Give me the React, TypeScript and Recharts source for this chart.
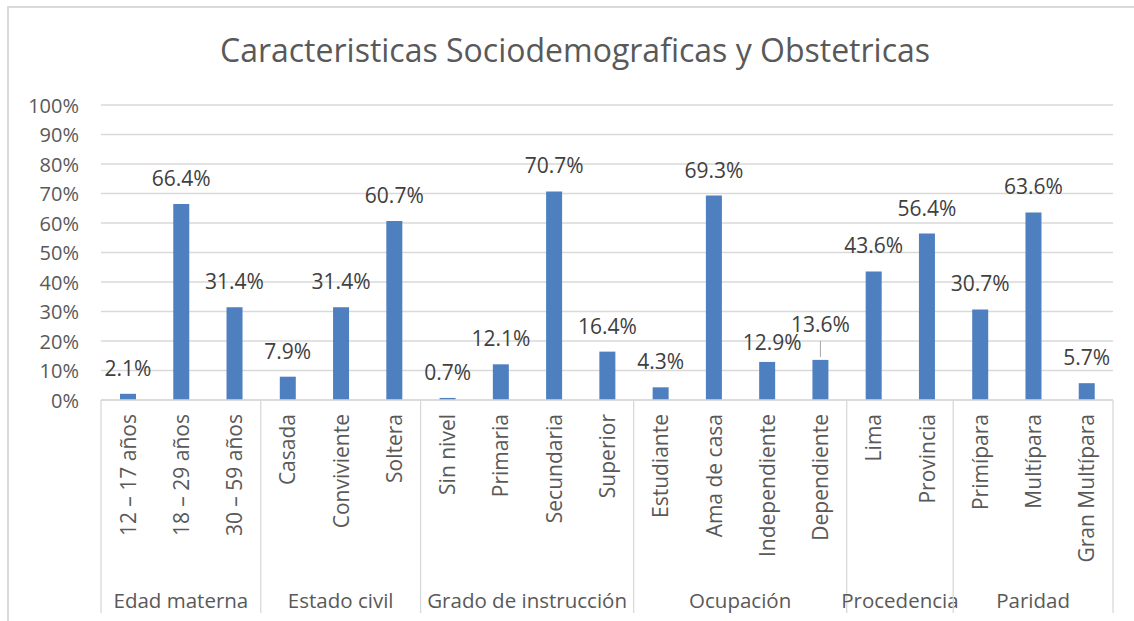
import React from "react";
import { BarChart, Bar, XAxis, YAxis, CartesianGrid, LabelList } from "recharts";

const categories = [
  "12 – 17 años", "18 – 29 años", "30 – 59 años",
  "Casada", "Conviviente", "Soltera",
  "Sin nivel", "Primaria", "Secundaria", "Superior",
  "Estudiante", "Ama de casa", "Independiente", "Dependiente",
  "Lima", "Provincia",
  "Primípara", "Multípara", "Gran Multípara",
];
const values = [
  2.1, 66.4, 31.4,
  7.9, 31.4, 60.7,
  0.7, 12.1, 70.7, 16.4,
  4.3, 69.3, 12.9, 13.6,
  43.6, 56.4,
  30.7, 63.6, 5.7,
];
const groupNames = ["Edad materna", "Estado civil", "Grado de instrucción", "Ocupación", "Procedencia", "Paridad"];
const groupSizes = [3, 3, 4, 4, 2, 3];
const yTicks = [0, 10, 20, 30, 40, 50, 60, 70, 80, 90, 100];
const title = "Caracteristicas Sociodemograficas y Obstetricas";

const data = categories.map((name, i) => ({ name, value: values[i] }));

// layout constants
const W = 1134;
const H = 621;
const PLOT_LEFT = 101;
const PLOT_RIGHT = 1113;
const PLOT_TOP = 105;
const PLOT_BOTTOM = 400;
const BAND = (PLOT_RIGHT - PLOT_LEFT) / categories.length;
const FONT = "'Open Sans', 'Noto Sans', sans-serif";
const TEXT = "#595959";
const LINE = "#d9d9d9";

const groupStart: Record<number, number> = {};
{
  let s = 0;
  groupSizes.forEach((n, g) => {
    groupStart[s] = g;
    s += n;
  });
}

const XTick = (props: any) => {
  const { x, payload, index } = props;
  const g = groupStart[index];
  const els: React.ReactNode[] = [];
  els.push(
    <text
      key="t"
      x={x}
      y={414}
      transform={`rotate(-90 ${x} 414)`}
      textAnchor="end"
      dominantBaseline="central"
      fontSize={21}
      fill={TEXT}
      fontFamily={FONT}
    >
      {payload.value}
    </text>
  );
  if (g !== undefined) {
    const n = groupSizes[g];
    const left = x - BAND / 2;
    const cx = left + (n * BAND) / 2;
    els.push(<line key="s" x1={left} x2={left} y1={PLOT_BOTTOM} y2={613} stroke={LINE} strokeWidth={1.3} />);
    els.push(
      <text key="g" x={cx} y={600} textAnchor="middle" dominantBaseline="central" fontSize={20.5} fill={TEXT} fontFamily={FONT}>
        {groupNames[g]}
      </text>
    );
  }
  if (index === categories.length - 1) {
    const right = x + BAND / 2;
    els.push(<line key="r" x1={right} x2={right} y1={PLOT_BOTTOM} y2={613} stroke={LINE} strokeWidth={1.3} />);
  }
  return <g>{els}</g>;
};

const YTick = (props: any) => {
  const { y, payload } = props;
  return (
    <text x={79} y={y} textAnchor="end" dominantBaseline="central" fontSize={20} fill={TEXT} fontFamily={FONT}>
      {`${payload.value}%`}
    </text>
  );
};

const labelOffsets: Record<number, { dy: number; dx: number; leader?: boolean }> = {
  12: { dy: 12, dx: 5 },
  13: { dy: 28, dx: 0, leader: true },
};

const renderLabel = (props: any) => {
  const { x, y, width, value, index } = props;
  const adj = labelOffsets[index] || { dy: 18, dx: 0 };
  const cx = x + width / 2;
  return (
    <g>
      {adj.leader && <line x1={cx} x2={cx} y1={y - 3} y2={y - 19} stroke="#a6a6a6" strokeWidth={1} />}
      <text x={cx + adj.dx} y={y - adj.dy} textAnchor="middle" fontSize={21} fill="#404040" fontFamily={FONT}>
        {`${Number(value).toFixed(1)}%`}
      </text>
    </g>
  );
};

export default function App() {
  return (
    <div style={{ position: "absolute", left: 0, top: 0, width: W, height: H, overflow: "hidden", background: "#fff" }}>
      <div
        style={{
          position: "absolute",
          left: 7,
          top: 6,
          width: W + 50,
          height: H + 50,
          border: `2px solid ${LINE}`,
          boxSizing: "border-box",
        }}
      />
      <div
        style={{
          position: "absolute",
          left: 0,
          width: 1150,
          top: 27,
          textAlign: "center",
          fontFamily: FONT,
          fontSize: 32,
          color: TEXT,
          lineHeight: "46px",
          whiteSpace: "nowrap",
        }}
      >
        {title}
      </div>
      <div style={{ position: "absolute", left: 0, top: 0 }}>
        <BarChart
          width={W}
          height={H}
          data={data}
          margin={{ top: PLOT_TOP, right: W - PLOT_RIGHT, left: 0, bottom: 0 }}
        >
          <CartesianGrid vertical={false} stroke={LINE} strokeWidth={1.3} />
          <YAxis
            width={PLOT_LEFT}
            domain={[0, 100]}
            ticks={yTicks}
            axisLine={false}
            tickLine={false}
            tick={<YTick />}
            interval={0}
          />
          <XAxis
            dataKey="name"
            height={H - PLOT_BOTTOM}
            interval={0}
            tickLine={false}
            axisLine={{ stroke: LINE, strokeWidth: 1.3 }}
            tick={<XTick />}
          />
          <Bar dataKey="value" fill="#4e7fbe" barSize={16} isAnimationActive={false}>
            <LabelList dataKey="value" content={renderLabel} />
          </Bar>
        </BarChart>
      </div>
    </div>
  );
}
